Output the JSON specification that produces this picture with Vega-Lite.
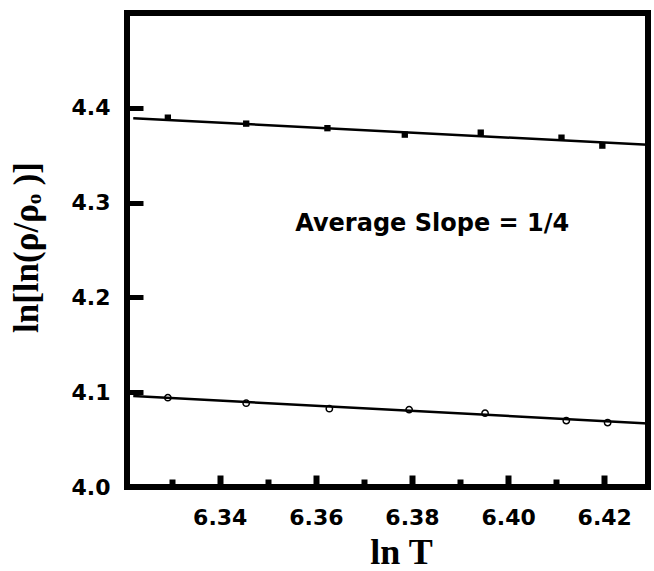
{
  "$schema": "https://vega.github.io/schema/vega-lite/v6.json",
  "width": 521,
  "height": 474,
  "autosize": {"type": "none"},
  "padding": {"left": 127, "top": 13, "right": 6, "bottom": 84},
  "background": "white",
  "config": {
    "view": {"stroke": "black", "strokeWidth": 6},
    "axis": {"grid": false, "domain": false, "labelColor": "black", "tickColor": "black", "titleColor": "black"}
  },
  "datasets": {
    "pts": [
      {"series": "upper", "lnT": 6.3292, "val": 4.3896},
      {"series": "upper", "lnT": 6.3455, "val": 4.3833},
      {"series": "upper", "lnT": 6.3624, "val": 4.3785},
      {"series": "upper", "lnT": 6.3785, "val": 4.3717},
      {"series": "upper", "lnT": 6.3943, "val": 4.3738},
      {"series": "upper", "lnT": 6.4111, "val": 4.3685},
      {"series": "upper", "lnT": 6.4196, "val": 4.3601},
      {"series": "lower", "lnT": 6.3292, "val": 4.0942},
      {"series": "lower", "lnT": 6.3455, "val": 4.0884},
      {"series": "lower", "lnT": 6.3628, "val": 4.0826},
      {"series": "lower", "lnT": 6.3794, "val": 4.0816},
      {"series": "lower", "lnT": 6.3952, "val": 4.0779},
      {"series": "lower", "lnT": 6.4121, "val": 4.0700},
      {"series": "lower", "lnT": 6.4207, "val": 4.0679}
    ],
    "fit": [
      {"series": "upper", "lnT": 6.322, "val": 4.389},
      {"series": "upper", "lnT": 6.4291, "val": 4.361},
      {"series": "lower", "lnT": 6.322, "val": 4.096},
      {"series": "lower", "lnT": 6.4291, "val": 4.067}
    ],
    "note": [
      {"lnT": 6.3557, "val": 4.270, "label": "Average Slope = 1/4"}
    ]
  },
  "layer": [
    {
      "data": {"name": "fit"},
      "mark": {"type": "line", "color": "black", "strokeWidth": 2.5},
      "encoding": {
        "x": {
          "field": "lnT", "type": "quantitative",
          "scale": {"domain": [6.3207, 6.4291], "nice": false, "zero": false},
          "axis": {
            "title": "ln T",
            "titleFont": "Liberation Serif", "titleFontSize": 36, "titleFontWeight": "bold",
            "titleX": 274, "titleY": 76, "titleBaseline": "alphabetic", "titleAlign": "center",
            "values": [6.33, 6.34, 6.35, 6.36, 6.37, 6.38, 6.39, 6.40, 6.41, 6.42],
            "labelExpr": "indexof(['6.34','6.36','6.38','6.40','6.42'], format(datum.value, '.2f')) >= 0 ? format(datum.value, '.2f') : ''",
            "labelFont": "DejaVu Sans", "labelFontSize": 22, "labelFontWeight": "bold",
            "labelPadding": 32, "labelFlush": false, "labelOverlap": false,
            "tickSize": {"condition": {"test": "indexof(['6.34','6.36','6.38','6.40','6.42'], format(datum.value, '.2f')) >= 0", "value": -12}, "value": -8},
            "tickWidth": 6
          }
        },
        "y": {
          "field": "val", "type": "quantitative",
          "scale": {"domain": [4.0, 4.5], "nice": false, "zero": false},
          "axis": {
            "title": "ln[ln(ρ/ρₒ )]",
            "titleFont": "Liberation Serif", "titleFontSize": 35, "titleFontWeight": "bold",
            "titleAngle": -90, "titleX": -90, "titleY": 234, "titleBaseline": "alphabetic", "titleAlign": "center",
            "values": [4.0, 4.1, 4.2, 4.3, 4.4],
            "format": ".1f",
            "labelFont": "DejaVu Sans", "labelFontSize": 22, "labelFontWeight": "bold",
            "labelPadding": 33, "labelFlush": false, "labelOverlap": false,
            "tickSize": -16, "tickWidth": 5
          }
        },
        "detail": {"field": "series"}
      }
    },
    {
      "data": {"name": "pts"},
      "transform": [{"filter": "datum.series == 'upper'"}],
      "mark": {"type": "square", "filled": true, "color": "black", "size": 40, "opacity": 1},
      "encoding": {
        "x": {"field": "lnT", "type": "quantitative"},
        "y": {"field": "val", "type": "quantitative"}
      }
    },
    {
      "data": {"name": "pts"},
      "transform": [{"filter": "datum.series == 'lower'"}],
      "mark": {"type": "point", "shape": "circle", "filled": false, "color": "black", "size": 40, "strokeWidth": 1.5, "opacity": 1},
      "encoding": {
        "x": {"field": "lnT", "type": "quantitative"},
        "y": {"field": "val", "type": "quantitative"}
      }
    },
    {
      "data": {"name": "note"},
      "mark": {"type": "text", "font": "DejaVu Sans", "fontSize": 24, "fontWeight": "bold", "align": "left", "baseline": "alphabetic", "color": "black"},
      "encoding": {
        "x": {"field": "lnT", "type": "quantitative"},
        "y": {"field": "val", "type": "quantitative"},
        "text": {"field": "label"}
      }
    }
  ]
}
